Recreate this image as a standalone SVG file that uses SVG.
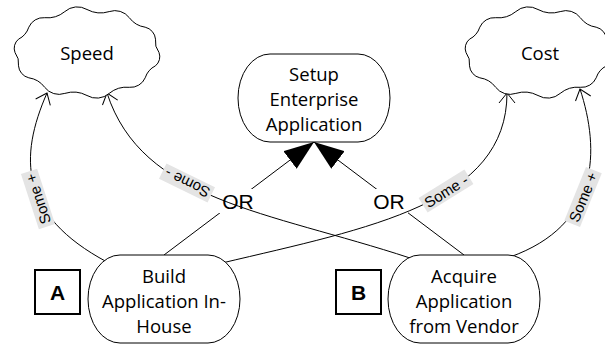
<svg xmlns="http://www.w3.org/2000/svg" width="605" height="345" viewBox="0 0 605 345">
  <style>
    .node{fill:#fff;stroke:#000;stroke-width:1}
    .soft{fill:#fff;stroke:#000;stroke-width:1}
    .label{font-family:"Open Sans","DejaVu Sans",sans-serif;font-size:18.5px;fill:#000;text-anchor:middle}
    .or-line{fill:none;stroke:#000;stroke-width:1;marker-end:url(#andArrow)}
    .contrib{fill:none;stroke:#000;stroke-width:1;marker-end:url(#openArrow)}
    .tag rect{fill:#e4e4e4}
    .tag text{font-family:"Liberation Sans",Arial,sans-serif;font-size:15px;fill:#000;text-anchor:middle}
    .or rect{fill:#fff}
    .or text{font-family:"Liberation Sans",Arial,sans-serif;font-size:21px;fill:#000;text-anchor:middle}
    .key rect{fill:#fff;stroke:#000;stroke-width:2}
    .key text{font-family:"Liberation Sans",Arial,sans-serif;font-weight:bold;font-size:21px;fill:#000;text-anchor:middle}
  </style>
  <defs>
    <!-- filled triangle for decomposition links -->
    <marker id="andArrow" markerUnits="userSpaceOnUse" viewBox="0 0 30 22" markerWidth="30" markerHeight="22" refX="30" refY="11" orient="auto">
      <path d="M0,0 L30,11 L0,22 Z" fill="#000"/>
    </marker>
    <!-- open head for contribution links -->
    <marker id="openArrow" markerUnits="userSpaceOnUse" viewBox="0 0 14 20" markerWidth="14" markerHeight="20" refX="12" refY="10" orient="auto">
      <path d="M2,2 L12,10 L2,18" fill="none" stroke="#000" stroke-width="1"/>
    </marker>
    <!-- wavy soft-goal outline, centred on the origin -->
    <path id="cloud" d="M72,0
      A11.7,11.7 0 0 1 68.5,13.3
      A20.5,20.5 0 0 0 58.2,25.3
      A15.8,15.8 0 0 1 42.3,34.8
      A27.3,27.3 0 0 0 22.2,40.9
      A19,19 0 0 1 0,43
      A29.1,29.1 0 0 0 -22.2,40.9
      A17.9,17.9 0 0 1 -42.3,34.8
      A24.2,24.2 0 0 0 -58.2,25.3
      A13.4,13.4 0 0 1 -68.5,13.3
      A17.9,17.9 0 0 0 -72,0
      A11.7,11.7 0 0 1 -68.5,-13.3
      A20.5,20.5 0 0 0 -58.2,-25.3
      A15.8,15.8 0 0 1 -42.3,-34.8
      A27.3,27.3 0 0 0 -22.2,-40.9
      A19,19 0 0 1 0,-43
      A29.1,29.1 0 0 0 22.2,-40.9
      A17.9,17.9 0 0 1 42.3,-34.8
      A24.2,24.2 0 0 0 58.2,-25.3
      A13.4,13.4 0 0 1 68.5,-13.3
      A17.9,17.9 0 0 0 72,0 Z"/>
  </defs>

  <g id="connectors">
    <!-- OR decomposition -->
    <line class="or-line" x1="164" y1="255" x2="314" y2="142"/>
    <line class="or-line" x1="464" y1="255" x2="314" y2="142"/>
    <g class="or">
      <rect x="219" y="189" width="38" height="24"/>
      <text x="238" y="209">OR</text>
      <rect x="370" y="189" width="38" height="24"/>
      <text x="389" y="209">OR</text>
    </g>
    <!-- contributions -->
    <path class="contrib" d="M107,262 C19,215 19,157 47,93"/>
    <path class="contrib" d="M410,258 C267,211 142,201 107,93"/>
    <path class="contrib" d="M222,263 C370,228 507,203 507,93"/>
    <path class="contrib" d="M510,257 C600,225 600,150 580,89"/>
    <g class="tag" transform="translate(38,199) rotate(-108)">
      <rect x="-29" y="-8.5" width="58" height="17"/>
      <text y="5.5">Some +</text>
    </g>
    <g class="tag" transform="translate(187,183) rotate(206)">
      <rect x="-27" y="-8.5" width="54" height="17"/>
      <text y="5.5">Some -</text>
    </g>
    <g class="tag" transform="translate(446,191) rotate(-32)">
      <rect x="-27" y="-8.5" width="54" height="17"/>
      <text y="5.5">Some -</text>
    </g>
    <g class="tag" transform="translate(583,197) rotate(-68)">
      <rect x="-29" y="-8.5" width="58" height="17"/>
      <text y="5.5">Some +</text>
    </g>
  </g>

  <g id="speed">
    <use href="#cloud" class="soft" transform="translate(87,52.5)"/>
    <text class="label" x="87" y="60">Speed</text>
  </g>
  <g id="cost">
    <use href="#cloud" class="soft" transform="translate(538,52.5)"/>
    <text class="label" x="540" y="60">Cost</text>
  </g>

  <g id="setup">
    <rect class="node" x="238" y="54" width="152" height="88" rx="32" ry="44"/>
    <text class="label"><tspan x="314" y="81">Setup</tspan><tspan x="314" y="106">Enterprise</tspan><tspan x="314" y="131">Application</tspan></text>
  </g>
  <g id="build">
    <rect class="node" x="88" y="255" width="152" height="88" rx="32" ry="44"/>
    <text class="label"><tspan x="164" y="283">Build</tspan><tspan x="164" y="308">Application In-</tspan><tspan x="164" y="333">House</tspan></text>
  </g>
  <g id="acquire">
    <rect class="node" x="388" y="255" width="152" height="88" rx="32" ry="44"/>
    <text class="label"><tspan x="464" y="283">Acquire</tspan><tspan x="464" y="308">Application</tspan><tspan x="464" y="333">from Vendor</tspan></text>
  </g>

  <g id="key-a" class="key">
    <rect x="35" y="270" width="45" height="44"/>
    <text x="57.5" y="300">A</text>
  </g>
  <g id="key-b" class="key">
    <rect x="336" y="270" width="45" height="44"/>
    <text x="358.5" y="300">B</text>
  </g>
</svg>
